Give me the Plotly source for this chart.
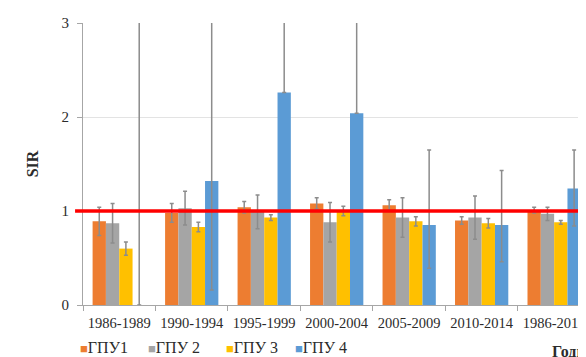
import plotly.graph_objects as go

categories = ["1986-1989", "1990-1994", "1995-1999", "2000-2004", "2005-2009", "2010-2014", "1986-2014"]
series_names = ["ГПУ1", "ГПУ 2", "ГПУ 3", "ГПУ 4"]
series_colors = ["#ED7D31", "#A5A5A5", "#FFC000", "#5B9BD5"]

gpu1 = [0.89, 0.98, 1.04, 1.08, 1.06, 0.90, 1.01]
gpu1_err = [0.15, 0.10, 0.06, 0.06, 0.06, 0.04, 0.03]

gpu2 = [0.87, 1.03, 0.99, 0.88, 0.93, 0.93, 0.97]
gpu2_err = [0.21, 0.18, 0.18, 0.21, 0.21, 0.23, 0.07]

gpu3 = [0.60, 0.83, 0.93, 1.00, 0.89, 0.87, 0.88]
gpu3_err = [0.07, 0.05, 0.03, 0.05, 0.05, 0.05, 0.02]

gpu4 = [0.0, 1.32, 2.26, 2.04, 0.85, 0.85, 1.24]
gpu4_err_plus = [3.5, 3.0, 3.0, 3.0, 0.80, 0.58, 0.41]
gpu4_err_minus = [0.0, 1.16, 0.0, 0.0, 0.46, 0.39, 0.40]

y_ticks = [0, 1, 2, 3]
reference_level = 1
x_title = "Годы"
y_title = "SIR"

values = [gpu1, gpu2, gpu3, gpu4]
err_plus = [gpu1_err, gpu2_err, gpu3_err, gpu4_err_plus]
err_minus = [gpu1_err, gpu2_err, gpu3_err, gpu4_err_minus]

SERIF = "'Liberation Serif', 'Times New Roman', Times, serif"
TXT = "#2b2b2b"

fig = go.Figure()
for name, color, v, ep, em in zip(series_names, series_colors, values, err_plus, err_minus):
    fig.add_trace(go.Bar(
        x=categories, y=v, name=name, marker_color=color, marker_line_width=0,
        showlegend=False,
        error_y=dict(type="data", array=ep, arrayminus=em, symmetric=False,
                     color="#8c8c8c", thickness=1.5, width=2),
    ))

# reference line at SIR = 1
fig.add_shape(type="line", xref="paper", yref="y", x0=-0.016, x1=1.0,
              y0=reference_level, y1=reference_level,
              line=dict(color="#FF0000", width=3.5), layer="above")

# legend drawn as text entries
legend_x_px = [78, 147, 226, 296]
plot_left, plot_w = 83, 503
for name, color, px in zip(series_names, series_colors, legend_x_px):
    fig.add_annotation(
        xref="paper", yref="paper", x=(px - plot_left) / plot_w, y=-0.150,
        xanchor="left", yanchor="middle", showarrow=False,
        text=f"<span style='color:{color};font-size:13px'>■</span>{name}",
        font=dict(family=SERIF, size=16, color=TXT),
    )

fig.add_annotation(
    xref="paper", yref="paper", x=(557 - plot_left) / plot_w, y=-0.165,
    xanchor="left", yanchor="middle", showarrow=False,
    text=f"<b>{x_title}</b>", font=dict(family=SERIF, size=16, color=TXT),
)

fig.update_layout(
    width=578, height=349,
    margin=dict(l=75, r=0, t=15, b=52),
    paper_bgcolor="white", plot_bgcolor="white",
    barmode="group", bargap=0.265, bargroupgap=0,
    showlegend=False,
    font=dict(family=SERIF, color=TXT),
)
fig.update_xaxes(
    type="category", range=[-0.5, 6.343],
    showline=True, linecolor="#a6a6a6", linewidth=1,
    ticks="outside", tickson="boundaries", ticklen=5, tickcolor="#a6a6a6",
    tickfont=dict(family=SERIF, size=14.5, color=TXT), tickangle=0,
    ticklabelstandoff=5,
    ticklabeloverflow="allow", showgrid=False,
)
fig.update_yaxes(
    range=[0, 3], tickvals=y_ticks,
    showline=True, linecolor="#a6a6a6", linewidth=1,
    ticks="outside", ticklen=5, tickcolor="#a6a6a6",
    tickfont=dict(family=SERIF, size=15, color=TXT),
    ticklabelstandoff=5,
    showgrid=True, gridcolor="#e3e3e3", gridwidth=1, zeroline=False,
    title=dict(text=f"<b>{y_title}</b>", font=dict(family=SERIF, size=16, color=TXT), standoff=18),
)

fig.write_html("out.html")
